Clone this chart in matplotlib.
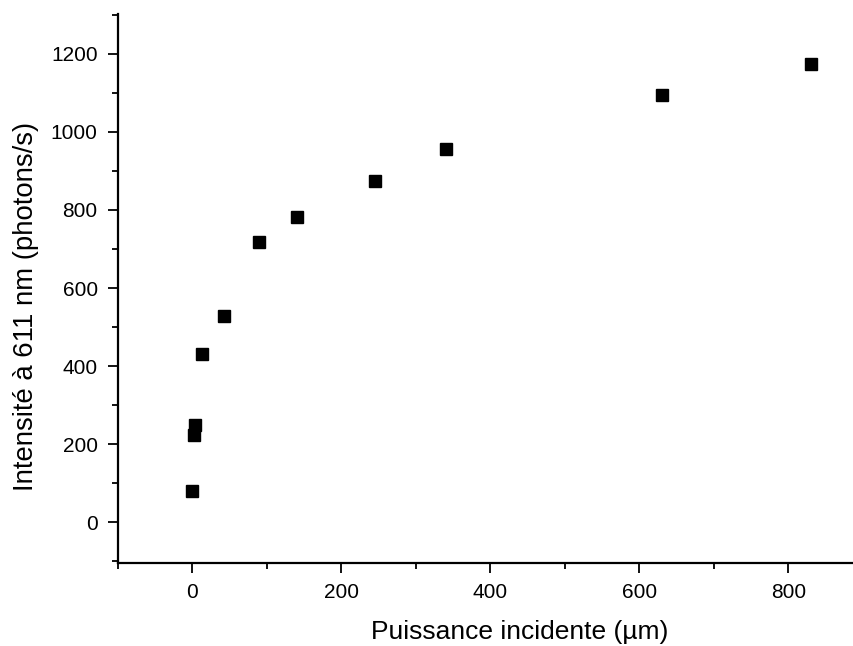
import matplotlib.pyplot as plt
from matplotlib.ticker import MultipleLocator

# puissance incidente vs intensite
puissance = [0, 2, 4, 13, 42, 89, 141, 245, 340, 630, 830]
intensite = [80, 223, 249, 431, 529, 719, 782, 875, 956, 1095, 1173]

plt.rcParams['font.family'] = ['Liberation Sans', 'DejaVu Sans']

fig = plt.figure(figsize=(8.54, 6.46), dpi=100)
ax = fig.add_axes([0.138, 0.1285, 0.862, 0.850])

ax.plot(puissance, intensite, linestyle='none', marker='s', markersize=8.5,
        color='black')

ax.set_xlim(-100, 888)
ax.set_ylim(-104, 1302)

ax.xaxis.set_major_locator(MultipleLocator(200))
ax.xaxis.set_minor_locator(MultipleLocator(100))
ax.yaxis.set_major_locator(MultipleLocator(200))
ax.yaxis.set_minor_locator(MultipleLocator(100))

for side in ['top', 'right']:
    ax.spines[side].set_visible(False)
for side in ['left', 'bottom']:
    ax.spines[side].set_linewidth(1.6)

ax.tick_params(which='major', direction='out', length=7.5, width=1.3,
               labelsize=15, pad=7)
ax.tick_params(which='minor', direction='out', length=4, width=1.3)

ax.set_xlabel('Puissance incidente (µm)', fontsize=19)
ax.set_ylabel('Intensité à 611 nm (photons/s)', fontsize=19.8)
ax.xaxis.set_label_coords(0.546, -0.104)
ax.yaxis.set_label_coords(-0.107, 0.468)

fig.savefig('out.png', dpi=100)
